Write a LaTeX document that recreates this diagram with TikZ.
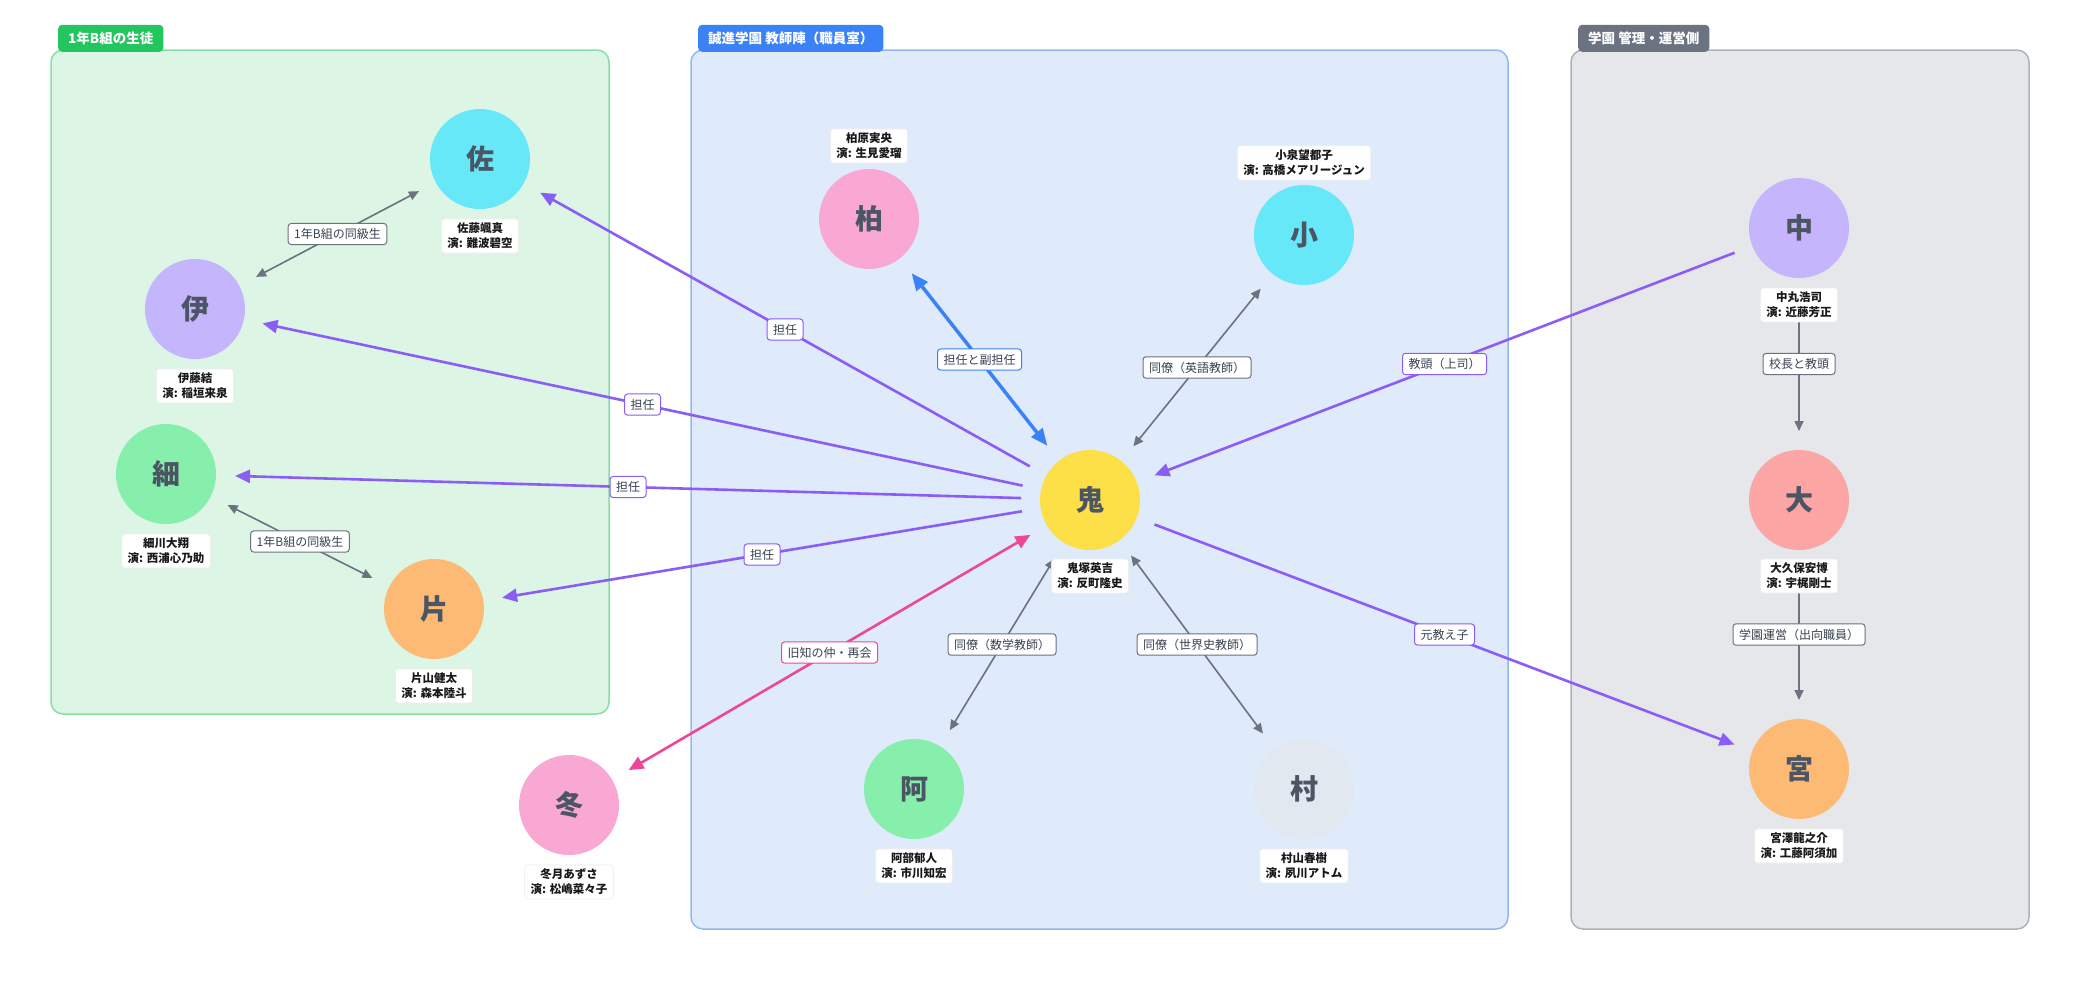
\documentclass[tikz,border=0pt]{standalone}
\usepackage{fontspec}
\setmainfont{Noto Sans CJK JP}
\usetikzlibrary{arrows.meta}

% group colours
\definecolor{greenbg}{HTML}{DCF5E5}
\definecolor{greenline}{HTML}{86DFA5}
\definecolor{greentag}{HTML}{22C55E}
\definecolor{bluebg}{HTML}{DFEAFB}
\definecolor{blueline}{HTML}{93B7F4}
\definecolor{bluetag}{HTML}{3B82F6}
\definecolor{graybg}{HTML}{E5E7EB}
\definecolor{grayline}{HTML}{ADB1B8}
\definecolor{graytag}{HTML}{6B7280}
% connector colours
\definecolor{purpleC}{HTML}{8B5CF6}
\definecolor{grayC}{HTML}{6B7280}
\definecolor{blueC}{HTML}{3B82F6}
\definecolor{pinkC}{HTML}{EC4899}
% person fills
\definecolor{cyanF}{HTML}{67E8F9}
\definecolor{violetF}{HTML}{C4B5FD}
\definecolor{greenF}{HTML}{86EFAC}
\definecolor{orangeF}{HTML}{FDBA74}
\definecolor{pinkF}{HTML}{F9A8D4}
\definecolor{yellowF}{HTML}{FDE047}
\definecolor{slateF}{HTML}{E2E8F0}
\definecolor{redF}{HTML}{FCA5A5}
\definecolor{glyphC}{HTML}{4B5563}
\definecolor{lbltext}{HTML}{374151}

\tikzset{
  groupbox/.style={line width=1.5pt, rounded corners=12pt},
  grouptag/.style={anchor=south west, text=white, rounded corners=4pt,
    minimum height=27pt, inner xsep=10pt, inner ysep=0pt,
    font=\fontsize{13.5}{15}\selectfont\bfseries},
  person/.style={circle, minimum size=100pt, inner sep=0pt, outer sep=19pt,
    text=glyphC, font=\fontsize{28}{30}\selectfont\bfseries},
  namecard/.style={fill=white, draw=black!7, line width=0.6pt, rounded corners=3pt,
    inner xsep=6pt, inner ysep=4pt, align=center, text=black!90,
    font=\fontsize{11.5}{15}\selectfont\bfseries},
  elbl/.style={fill=white, draw=#1, line width=1pt, rounded corners=3pt,
    inner xsep=6pt, inner ysep=5pt, text=lbltext,
    font=\fontsize{12}{14}\selectfont},
  homeroom/.style={draw=purpleC, line width=2.6pt,
    -{Triangle[length=15pt,width=13pt]}},
  peer/.style={draw=grayC, line width=1.6pt,
    {Triangle[length=10pt,width=9pt]}-{Triangle[length=10pt,width=9pt]}},
  chain/.style={draw=grayC, line width=1.6pt,
    -{Triangle[length=10pt,width=9pt]}},
  coteach/.style={draw=blueC, line width=3.5pt,
    {Triangle[length=17pt,width=14pt]}-{Triangle[length=17pt,width=14pt]}},
  reunion/.style={draw=pinkC, line width=2.6pt,
    {Triangle[length=15pt,width=13pt]}-{Triangle[length=15pt,width=13pt]}},
}

\begin{document}
\begin{tikzpicture}[x=1pt,y=-1pt]
\useasboundingbox (0,0) rectangle (2080,980);

% ---- groups ----
\draw[groupbox, fill=greenbg, draw=greenline] (51,50) rectangle (609,714);
\node[grouptag, fill=greentag] (tagA) at (58,52) {1年B組の生徒};
\draw[groupbox, fill=bluebg, draw=blueline] (691,50) rectangle (1508,929);
\node[grouptag, fill=bluetag] (tagB) at (698,52) {誠進学園 教師陣（職員室）};
\draw[groupbox, fill=graybg, draw=grayline] (1571,50) rectangle (2029,929);
\node[grouptag, fill=graytag] (tagC) at (1578,52) {学園 管理・運営側};

% ---- people ----
\node[person, fill=cyanF]   (sato)  at (480,159) {佐};
\node[person, fill=violetF] (ito)   at (195,309) {伊};
\node[person, fill=greenF]  (hoso)  at (166,474) {細};
\node[person, fill=orangeF] (kata)  at (434,609) {片};
\node[person, fill=pinkF]   (kashi) at (869,219) {柏};
\node[person, fill=cyanF]   (koi)   at (1304,235) {小};
\node[person, fill=yellowF] (oni)   at (1090,500) {鬼};
\node[person, fill=greenF]  (abe)   at (914,789) {阿};
\node[person, fill=slateF]  (mura)  at (1304,789) {村};
\node[person, fill=pinkF]   (fuyu)  at (569,805) {冬};
\node[person, fill=violetF] (naka)  at (1799,228) {中};
\node[person, fill=redF]    (oo)    at (1799,500) {大};
\node[person, fill=orangeF] (miya)  at (1799,769) {宮};

% ---- relations ----
\draw[peer] (ito) -- node[elbl=grayC] {1年B組の同級生} (sato);
\draw[peer] (hoso) -- node[elbl=grayC] {1年B組の同級生} (kata);
\draw[homeroom] (oni) -- node[elbl=purpleC] {担任} (sato);
\draw[homeroom] (oni) -- node[elbl=purpleC] {担任} (ito);
\draw[homeroom] (oni) -- node[elbl=purpleC] {担任} (hoso);
\draw[homeroom] (oni) -- node[elbl=purpleC] {担任} (kata);
\draw[coteach] (kashi) -- node[elbl=blueC] {担任と副担任} (oni);
\draw[peer] (koi) -- node[elbl=grayC] {同僚（英語教師）} (oni);
\draw[homeroom] (naka) -- node[elbl=purpleC] {教頭（上司）} (oni);
\draw[chain] (naka) -- node[elbl=grayC] {校長と教頭} (oo);
\draw[chain] (oo) -- node[elbl=grayC] {学園運営（出向職員）} (miya);
\draw[homeroom] (oni) -- node[elbl=purpleC] {元教え子} (miya);
\draw[reunion] (fuyu) -- node[elbl=pinkC] {旧知の仲・再会} (oni);
\draw[peer] (oni) -- node[elbl=grayC] {同僚（数学教師）} (abe);
\draw[peer] (oni) -- node[elbl=grayC] {同僚（世界史教師）} (mura);

% ---- name cards ----
\node[namecard] (satoN)  at (480,236)  {佐藤颯真\\演: 難波碧空};
\node[namecard] (itoN)   at (195,386)  {伊藤結\\演: 稲垣来泉};
\node[namecard] (hosoN)  at (166,551)  {細川大翔\\演: 西浦心乃助};
\node[namecard] (kataN)  at (434,686)  {片山健太\\演: 森本陸斗};
\node[namecard] (kashiN) at (869,146)  {柏原実央\\演: 生見愛瑠};
\node[namecard] (koiN)   at (1304,163) {小泉望都子\\演: 高橋メアリージュン};
\node[namecard] (oniN)   at (1090,576) {鬼塚英吉\\演: 反町隆史};
\node[namecard] (abeN)   at (914,866)  {阿部郁人\\演: 市川知宏};
\node[namecard] (muraN)  at (1304,866) {村山春樹\\演: 夙川アトム};
\node[namecard] (fuyuN)  at (569,882)  {冬月あずさ\\演: 松嶋菜々子};
\node[namecard] (nakaN)  at (1799,305) {中丸浩司\\演: 近藤芳正};
\node[namecard] (ooN)    at (1799,576) {大久保安博\\演: 宇梶剛士};
\node[namecard] (miyaN)  at (1799,846) {宮澤龍之介\\演: 工藤阿須加};
\end{tikzpicture}
\end{document}
